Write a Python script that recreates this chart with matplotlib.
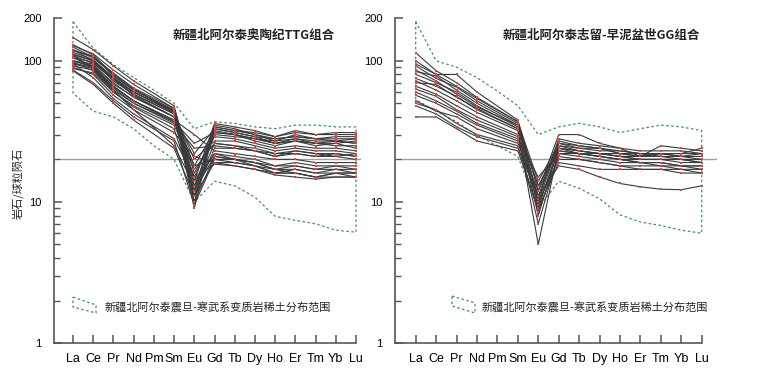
import matplotlib
matplotlib.use("Agg")
import matplotlib.pyplot as plt
import numpy as np

plt.rcParams['font.family'] = ['Liberation Sans', 'Noto Sans CJK SC']

elements = ['La', 'Ce', 'Pr', 'Nd', 'Pm', 'Sm', 'Eu', 'Gd', 'Tb', 'Dy', 'Ho', 'Er', 'Tm', 'Yb', 'Lu']
# measured elements (Pm not analysed)
measured = ['La', 'Ce', 'Pr', 'Nd', 'Sm', 'Eu', 'Gd', 'Tb', 'Dy', 'Ho', 'Er', 'Tm', 'Yb', 'Lu']

# chondrite-normalised values, Ordovician TTG
ttg = [
    [146, 120, 92, 72, 48, 14, 36, 34, 32, 29, 31, 30, 30, 30],
    [128, 112, 86, 68, 46, 12, 35, 33, 30, 28, 29, 28, 29, 29],
    [120, 105, 80, 63, 44, 11, 34, 32, 30, 27, 30, 28, 27, 28],
    [112, 100, 76, 60, 43, 10, 33, 31, 29, 26, 28, 27, 27, 26],
    [105, 98, 72, 58, 42, 18, 32, 30, 28, 27, 28, 26, 26, 27],
    [100, 95, 68, 56, 40, 22, 33, 31, 29, 28, 29, 28, 28, 28],
    [118, 108, 78, 62, 45, 9, 34, 32, 31, 29, 32, 30, 31, 31],
    [96, 90, 66, 52, 38, 15, 31, 30, 27, 25, 27, 25, 26, 24],
    [108, 96, 74, 60, 44, 13, 30, 29, 28, 26, 27, 26, 25, 25],
    [92, 86, 62, 50, 37, 26, 31, 30, 28, 26, 27, 26, 27, 26],
    [125, 106, 82, 64, 46, 16, 29, 28, 26, 24, 25, 24, 24, 23],
    [110, 100, 75, 58, 42, 20, 27, 27, 25, 23, 24, 23, 23, 22],
    [100, 92, 70, 55, 40, 12, 26, 25, 24, 22, 23, 22, 22, 21],
    [95, 88, 64, 50, 36, 24, 25, 24, 23, 22, 22, 21, 22, 21],
    [115, 102, 76, 60, 43, 11, 24, 24, 23, 21, 22, 21, 21, 20],
    [88, 82, 60, 48, 35, 17, 26, 25, 23, 21, 23, 22, 21, 22],
    [130, 110, 80, 62, 44, 14, 22, 21, 20, 18, 19, 18, 18, 18],
    [120, 100, 74, 57, 40, 10, 21, 20, 19, 17, 18, 17, 17, 17],
    [105, 92, 66, 52, 37, 18, 20, 20, 19, 18, 18, 17, 18, 17],
    [98, 85, 60, 47, 33, 12, 21, 20, 19, 17, 17, 16, 17, 16],
    [90, 80, 57, 45, 31, 21, 19, 19, 18, 16, 16, 15, 16, 15],
    [86, 70, 52, 40, 27, 9.5, 20, 19, 18, 16, 17, 16, 16, 16],
    [95, 76, 54, 42, 28, 15, 18.5, 18, 17, 15.5, 15, 14.5, 15, 15],
    [110, 88, 62, 45, 25, 13, 22, 20, 18, 17, 16, 15, 16, 16],
    [85, 68, 50, 38, 24, 11, 19, 18, 17, 16, 16, 15, 15, 15],
    [100, 90, 65, 52, 38, 30, 23, 22, 21, 20, 20, 19, 19, 19],
]

# Silurian - Early Devonian GG
gg = [
    [114, 85, 70, 55, 37, 14, 26, 25, 24, 22, 22, 22, 22, 22],
    [100, 80, 80, 60, 38, 12, 30, 30, 26, 24, 21, 21, 20, 20],
    [92, 75, 65, 52, 36, 10, 26, 24, 24, 22, 21, 22, 22, 24],
    [84, 78, 62, 50, 35, 9, 25, 23, 22, 21, 20, 20, 20, 19],
    [80, 70, 60, 48, 34, 8, 24, 23, 22, 22, 21, 25, 24, 23],
    [75, 66, 56, 45, 33, 11, 27, 25, 24, 23, 22, 21, 21, 21],
    [72, 62, 52, 43, 32, 5, 24, 22, 21, 20, 19, 19, 18, 18],
    [70, 68, 55, 46, 33, 13, 25, 24, 23, 23, 22, 22, 21, 20],
    [66, 58, 48, 40, 30, 9.5, 23, 22, 21, 20, 19, 18, 18, 17],
    [63, 56, 45, 38, 29, 7, 22, 21, 20, 19, 19, 19, 18, 18],
    [60, 52, 44, 36, 28, 15, 22, 22, 21, 20, 20, 20, 19, 19],
    [57, 50, 42, 35, 27, 10, 20, 20, 19, 18, 18, 18, 17, 17],
    [52, 44, 40, 33, 26, 12, 24, 23, 22, 21, 21, 22, 21, 22],
    [50, 45, 36, 30, 25, 8.5, 21, 20, 19, 18, 17, 17, 17, 16],
    [48, 42, 34, 29, 24, 11, 18, 17, 15, 13.5, 12.8, 12.3, 12.2, 13],
    [40, 40, 33, 27, 23, 9, 19, 18, 17, 17, 17, 17, 16, 16],
    [86, 72, 58, 47, 35, 13, 23, 22, 22, 21, 20, 20, 20, 19],
    [95, 80, 66, 54, 37, 10.5, 28, 26, 25, 24, 23, 23, 23, 22],
]

# Sinian-Cambrian metamorphic rocks field (all 15 elements)
env1_upper = [189, 123, 94, 76, 62, 50, 33, 37, 36, 34, 33, 35, 35, 34, 34]
env1_lower = [59, 44, 40, 33, 25, 20, 10, 14, 13, 10.8, 7.9, 7.4, 7.0, 6.3, 6.1]
env2_upper = [190, 100, 90, 76, 61, 48, 30, 34, 36, 34, 31, 33, 35, 34, 32]
env2_lower = [53, 44, 37, 29.5, 25, 21, 9, 14, 12.5, 10.5, 8.1, 7.2, 6.8, 6.3, 6.0]

titles = ['新疆北阿尔泰奥陶纪TTG组合', '新疆北阿尔泰志留-早泥盆世GG组合']
legend_text = '新疆北阿尔泰震旦-寒武系变质岩稀土分布范围'
ylabel = '岩石/球粒陨石'

W, H = 772, 374
fig = plt.figure(figsize=(W / 100, H / 100), dpi=100)

xpos = {e: i for i, e in enumerate(elements)}
xm = [xpos[e] for e in measured]
xall = np.arange(len(elements))

env_col = '#3f8f63'
line_col = '#3a3a3a'
mark_col = '#cf4a46'
cjk = ['Noto Sans CJK SC', 'DejaVu Sans']

panels = [
    # spine px, La px, Lu px, right px, data, envelope, title x px, legend box px
    (54, 73, 356, 361, ttg, env1_upper, env1_lower, 254, (73, 96, 297, 305, 307, 313), 105),
    (395, 415.7, 701.7, 717, gg, env2_upper, env2_lower, 601, (452, 475, 296, 303, 306, 313), 482),
]

y_top_px, y_bot_px = 18.3, 343

for k, (sp, la, lu, rp, data, up, lo, tx, box, lx) in enumerate(panels):
    step = (lu - la) / 14
    x0 = -(la - sp) / step
    x1 = (rp - la) / step
    ax = fig.add_axes([sp / W, 1 - y_bot_px / H, (rp - sp) / W, (y_bot_px - y_top_px) / H])
    ax.set_yscale('log')
    ax.set_xlim(x0, x1)
    ax.set_ylim(1, 200)

    for s in ['top', 'right']:
        ax.spines[s].set_visible(False)
    for s in ['left', 'bottom']:
        ax.spines[s].set_color('#555555')
        ax.spines[s].set_linewidth(1.2)
    ax.spines['bottom'].set_bounds(x0, 14)

    ax.set_xticks(xall)
    ax.set_xticklabels(elements, fontsize=9)
    ax.set_yticks([1, 10, 100, 200])
    ax.set_yticklabels(['1', '10', '100', '200'], fontsize=8)
    minors = [m * d for d in (1, 10) for m in range(2, 10)]
    ax.set_yticks(minors, minor=True)
    ax.yaxis.set_minor_formatter(matplotlib.ticker.NullFormatter())
    ax.tick_params(axis='x', direction='in', length=6, width=1.1, color='#555555', pad=7)
    ax.tick_params(axis='y', which='major', direction='in', length=6, width=1.1, color='#555555', pad=9)
    ax.tick_params(axis='y', which='minor', direction='in', length=4, width=1.0, color='#555555')

    # reference line at 20
    ax.plot([x0 + 0.3, x1], [20, 20], color='#a0a0a0', lw=1.0, zorder=1)

    # envelope
    ex = list(xall) + [14] + list(xall[::-1]) + [0]
    ey = list(up) + [lo[-1]] + list(lo[::-1]) + [up[0]]
    ax.plot(ex, ey, color=env_col, lw=0.9, ls=(0, (2, 2)), zorder=2)

    for row in data:
        ax.plot(xm, row, color=line_col, lw=0.8, zorder=3)
    for row in data:
        ax.plot(xm, row, ls='none', marker='s', ms=1.7, mfc=mark_col, mec=mark_col, mew=0, zorder=4)

    ax.text((tx - sp) / (rp - sp), 1 - (35.5 - y_top_px) / (y_bot_px - y_top_px), titles[k],
            transform=ax.transAxes, ha='center', va='center', fontsize=9, family=cjk,
            fontweight='bold', color='#222222')

    # legend box (parallelogram)
    bx0, bx1, bt0, bt1, bb0, bb1 = box
    px = [(v - sp) / (rp - sp) for v in (bx0, bx1, bx1, bx0, bx0)]
    py = [1 - (v - y_top_px) / (y_bot_px - y_top_px) for v in (bt0, bt1, bb1, bb0, bt0)]
    ax.plot(px, py, transform=ax.transAxes, color=env_col, lw=0.9, ls=(0, (2, 2)), clip_on=False)
    ax.text((lx - sp) / (rp - sp), 1 - (307.5 - y_top_px) / (y_bot_px - y_top_px), legend_text,
            transform=ax.transAxes, ha='left', va='center', fontsize=8, family=cjk, color='#222222')

    if k == 0:
        fig.text(18 / W, 1 - 183 / H, ylabel, rotation=90, ha='center', va='center',
                 fontsize=8, family=cjk, color='#222222')

fig.savefig('out.png', dpi=100)
